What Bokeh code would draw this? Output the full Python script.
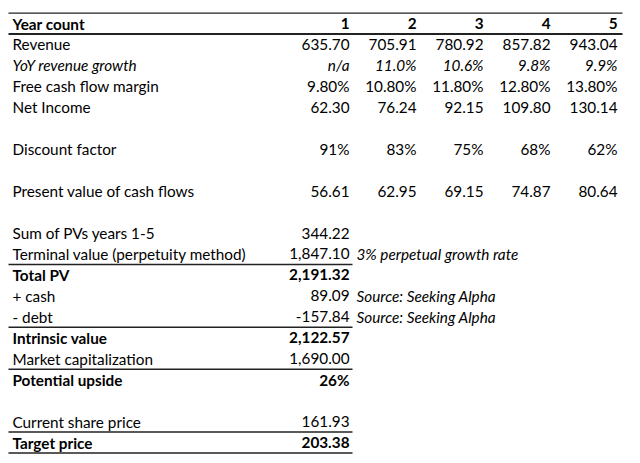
from bokeh.plotting import figure
from bokeh.models import ColumnDataSource, Range1d
from bokeh.core.properties import value
from bokeh.embed import file_html
from bokeh.resources import INLINE

# ---------------- data ----------------
years = ["1", "2", "3", "4", "5"]
revenue = [635.70, 705.91, 780.92, 857.82, 943.04]
yoy_growth = [None, 11.0, 10.6, 9.8, 9.9]
fcf_margin = [9.80, 10.80, 11.80, 12.80, 13.80]
net_income = [62.30, 76.24, 92.15, 109.80, 130.14]
discount_factor = [91, 83, 75, 68, 62]
pv_cash_flows = [56.61, 62.95, 69.15, 74.87, 80.64]

summary_labels = ["Sum of PVs years 1-5", "Terminal value (perpetuity method)", "Total PV",
                  "+ cash", "- debt", "Intrinsic value", "Market capitalization",
                  "Potential upside", "", "Current share price", "Target price"]
summary_values = [344.22, 1847.10, 2191.32, 89.09, -157.84, 2122.57, 1690.00,
                  26, None, 161.93, 203.38]
summary_notes = ["", "3% perpetual growth rate", "", "Source: Seeking Alpha",
                 "Source: Seeking Alpha", "", "", "", "", "", ""]
summary_bold = [False, False, True, False, False, True, False, True, False, False, True]
# a border is drawn under these summary rows
summary_border_after = [False, True, False, False, True, False, True, False, False, True, True]

# ---------------- layout ----------------
FONT = "Lato"
FS = "15.3px"
ROW0 = 23.0
PITCH = 20.95
LABEL_X = 12
COL_R = [349, 416, 483, 550, 617]
NOTE_X = 356
LEFT, RIGHT_FULL, RIGHT_SHORT = 8, 622, 352
INK = "#000000"
SUMMARY_START = 10

def ry(i):
    return ROW0 + i * PITCH

p = figure(width=632, height=455, output_backend="svg", toolbar_location=None,
           x_range=Range1d(0, 632), y_range=Range1d(455, 0),
           x_axis_location=None, y_axis_location=None, min_border=0)
p.grid.visible = False
p.outline_line_color = None
p.background_fill_color = "white"
p.border_fill_color = "white"

groups = {("normal", "left"): [], ("normal", "right"): [], ("bold", "left"): [],
          ("bold", "right"): [], ("italic", "left"): [], ("italic", "right"): []}

def add(style, align, x, y, t):
    groups[(style, align)].append((x, y, t))

# header
add("bold", "left", LABEL_X, ry(0), "Year count")
for c, yv in enumerate(years):
    add("bold", "right", COL_R[c], ry(0), yv)

# yearly rows
yearly = [
    ("Revenue", 1, "normal", [f"{v:.2f}" for v in revenue]),
    ("YoY revenue growth", 2, "italic", ["n/a" if v is None else f"{v:.1f}%" for v in yoy_growth]),
    ("Free cash flow margin", 3, "normal", [f"{v:.2f}%" for v in fcf_margin]),
    ("Net Income", 4, "normal", [f"{v:.2f}" for v in net_income]),
    ("Discount factor", 6, "normal", [f"{v}%" for v in discount_factor]),
    ("Present value of cash flows", 8, "normal", [f"{v:.2f}" for v in pv_cash_flows]),
]
for label, r, style, vals in yearly:
    add(style, "left", LABEL_X, ry(r), label)
    for c, t in enumerate(vals):
        add(style, "right", COL_R[c], ry(r), t)

# summary rows
short_lines_y = []
for k, (lab, val, note, b, border) in enumerate(zip(summary_labels, summary_values, summary_notes,
                                                    summary_bold, summary_border_after)):
    r = SUMMARY_START + k
    style = "bold" if b else "normal"
    if lab:
        add(style, "left", LABEL_X, ry(r), lab)
    if val is not None:
        if lab == "Potential upside":
            t = f"{val}%"
        else:
            t = f"{val:,.2f}"
        add(style, "right", COL_R[0], ry(r), t)
    if note:
        add("italic", "left", NOTE_X, ry(r), note)
    if border:
        short_lines_y.append(ry(r) + PITCH / 2)

for (style, align), items in groups.items():
    if not items:
        continue
    src = ColumnDataSource(dict(x=[i[0] for i in items], y=[i[1] for i in items],
                                t=[i[2] for i in items]))
    p.text(x="x", y="y", text="t", source=src, text_font=value(FONT),
           text_font_size=FS, text_font_style=style, text_align=align,
           text_baseline="middle", text_color=INK)

# borders
half = PITCH / 2
full_lines_y = [ry(0) - half]
thick_lines_y = [ry(0) + half]
p.segment(x0=[LEFT], x1=[RIGHT_FULL], y0=full_lines_y, y1=full_lines_y,
          line_color="#222222", line_width=1.3)
p.segment(x0=[LEFT], x1=[RIGHT_FULL], y0=thick_lines_y, y1=thick_lines_y,
          line_color="#222222", line_width=1.8)
p.segment(x0=[LEFT] * len(short_lines_y), x1=[RIGHT_SHORT] * len(short_lines_y),
          y0=short_lines_y, y1=short_lines_y, line_color="#222222", line_width=1.5)

open("out.html", "w").write(file_html(p, INLINE))
